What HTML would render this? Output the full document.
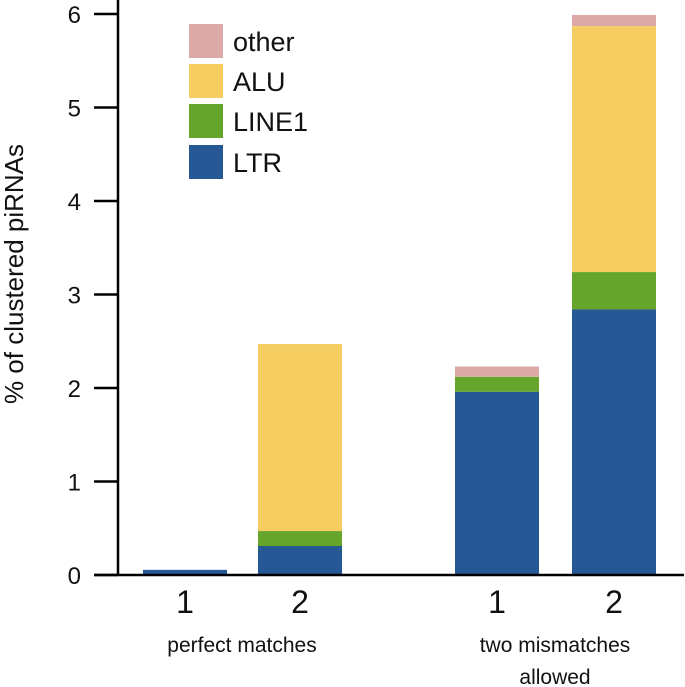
<!DOCTYPE html>
<html><head><meta charset="utf-8"><style>
html,body{margin:0;padding:0;background:#fff;}
svg{display:block;font-family:"Liberation Sans","DejaVu Sans",sans-serif;}
</style></head><body>
<svg id="chart" width="685" height="687" viewBox="0 0 685 687"></svg>
<script>
const categories = ["1","2","1","2"];
const seriesNames = ["LTR","LINE1","ALU","other"];
const ltrValues = [0.055, 0.31, 1.96, 2.84];
const line1Values = [0, 0.16, 0.16, 0.40];
const aluValues = [0, 2.00, 0, 2.63];
const otherValues = [0, 0, 0.11, 0.12];
const yTicks = [0,1,2,3,4,5,6];
const colors = ["#255894","#65a52c","#f6cd60","#dca8a8"];
const barLefts = [143, 258, 455, 572];
const barW = 84;
const y0 = 575, unit = 93.5;
function yScale(v){ return y0 - v*unit; }
const NS = "http://www.w3.org/2000/svg";
const svg = document.getElementById("chart");
function mk(tag, attrs, text){
  const e = document.createElementNS(NS, tag);
  for (const k in attrs) e.setAttribute(k, attrs[k]);
  if (text !== undefined) e.textContent = text;
  svg.appendChild(e);
  return e;
}
const series = [ltrValues, line1Values, aluValues, otherValues];
for (let i = 0; i < categories.length; i++) {
  let base = 0;
  for (let s = 0; s < series.length; s++) {
    const v = series[s][i];
    if (v <= 0) continue;
    const r = mk("rect", {x: barLefts[i], y: yScale(base+v), width: barW, height: yScale(base)-yScale(base+v), fill: colors[s]});
    
    
    base += v;
  }
}
const ya = mk("line", {x1:118, y1:0, x2:118, y2:y0+1, stroke:"#000", "stroke-width":2.5});


const xa = mk("line", {x1:94, y1:y0, x2:684, y2:y0, stroke:"#000", "stroke-width":2.5});


for (const t of yTicks) {
  const tk = mk("line", {x1:94, y1:yScale(t), x2:118, y2:yScale(t), stroke:"#000", "stroke-width":2.5});
  
  
  const lb = mk("text", {x:81, y:yScale(t)+9, "text-anchor":"end", "font-size":24, fill:"#111"}, String(t));
  
  
}
for (let i = 0; i < categories.length; i++) {
  const lb = mk("text", {x:barLefts[i]+barW/2, y:613, "text-anchor":"middle", "font-size":32, fill:"#111"}, categories[i]);
  
  
}
</script>
<script>
(function(){
const NS = "http://www.w3.org/2000/svg";
const svg = document.getElementById("chart");
function t(x,y,s,txt,name,extra){
  const e = document.createElementNS(NS,"text");
  e.setAttribute("x",x); e.setAttribute("y",y); e.setAttribute("font-size",s);
  e.setAttribute("fill","#111");
  if (extra) for (const k in extra) e.setAttribute(k, extra[k]);
  e.textContent = txt;
  
  
  svg.appendChild(e); return e;
}
t(242,652,21,"perfect  matches","group-label-perfect",{"text-anchor":"middle"});
t(555,652,21,"two mismatches","group-label-two-mismatches",{"text-anchor":"middle"});
t(555,684,21,"allowed","group-label-allowed",{"text-anchor":"middle"});
t(0,0,26,"% of clustered piRNAs","y-axis-title",{"text-anchor":"middle","transform":"translate(23,274) rotate(-90)"});
const leg = [["other","#dca8a8",24],["ALU","#f6cd60",64],["LINE1","#65a52c",104],["LTR","#255894",145]];
for (const [n,c,y] of leg) {
  const r = document.createElementNS(NS,"rect");
  r.setAttribute("x",189); r.setAttribute("y",y); r.setAttribute("width",34); r.setAttribute("height",34); r.setAttribute("fill",c);
  
  
  svg.appendChild(r);
  t(233,y+27,27,n,"legend-label-" + n.toLowerCase());
}
})();
</script>
</body></html>
